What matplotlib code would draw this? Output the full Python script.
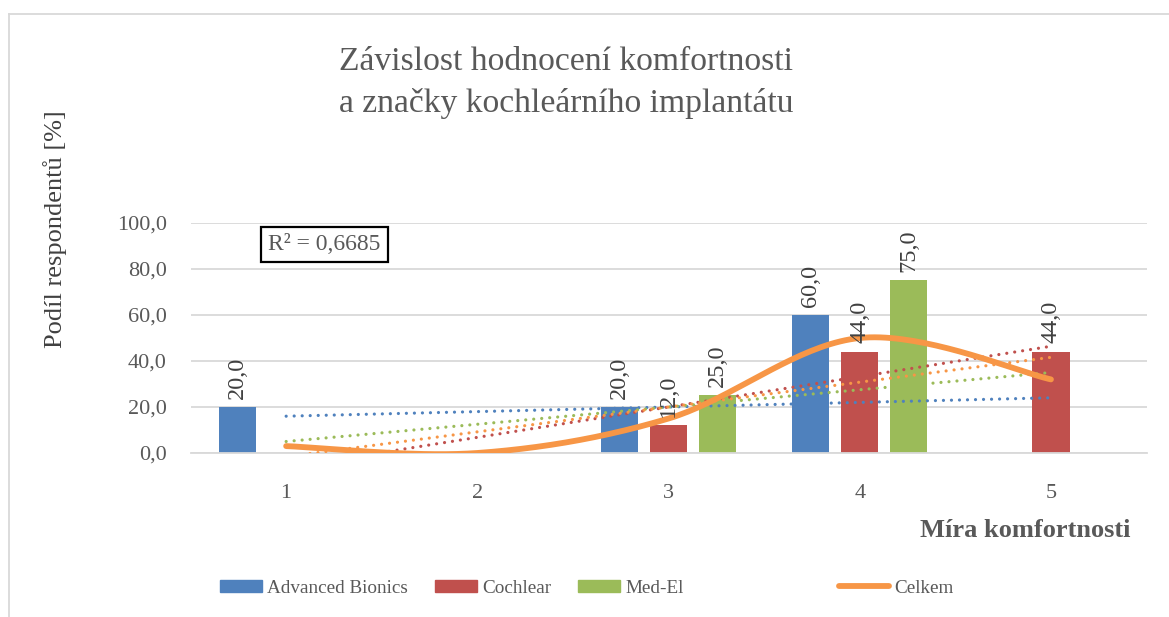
import numpy as np
import matplotlib
matplotlib.use('Agg')
import matplotlib.pyplot as plt
from matplotlib.lines import Line2D
from matplotlib.patches import Patch

# Data
kategorie = [1, 2, 3, 4, 5]
advanced_bionics = [20.0, 0.0, 20.0, 60.0, 0.0]
cochlear = [0.0, 0.0, 12.0, 44.0, 44.0]
med_el = [0.0, 0.0, 25.0, 75.0, 0.0]
celkem = [3.0, 0.0, 15.0, 50.0, 32.0]
y_ticks = [0, 20, 40, 60, 80, 100]
r2_text = 'R² = 0,6685'

barvy = {'ab': '#4F81BD', 'co': '#C0504D', 'me': '#9BBB59', 'ce': '#F79646'}
seda = '#595959'

plt.rcParams['font.family'] = ['Liberation Serif', 'DejaVu Serif']


def excel_smooth(x, y, n=40):
    """Hladká čára podobně jako v Excelu (Bezier, Catmull-Rom)."""
    x = np.asarray(x, float)
    y = np.asarray(y, float)
    xs, ys = [], []
    t = np.linspace(0, 1, n)
    for i in range(len(x) - 1):
        i0 = max(i - 1, 0)
        i3 = min(i + 2, len(x) - 1)
        for arr, out in ((x, xs), (y, ys)):
            p0, p1, p2, p3 = arr[i0], arr[i], arr[i + 1], arr[i3]
            c1 = p1 + (p2 - p0) / 6
            c2 = p2 - (p3 - p1) / 6
            out.extend((1 - t) ** 3 * p1 + 3 * (1 - t) ** 2 * t * c1
                       + 3 * (1 - t) * t ** 2 * c2 + t ** 3 * p2)
    return np.array(xs), np.array(ys)


fig = plt.figure(figsize=(11.69, 6.17), dpi=100)
ax = fig.add_axes([0.163, 0.2658, 0.8178, 0.3728])

x = np.array(kategorie, float)
sirka = 0.194
posun = 0.2565
serie = [
    ('Advanced Bionics', advanced_bionics, barvy['ab'], -posun),
    ('Cochlear', cochlear, barvy['co'], 0.0),
    ('Med-El', med_el, barvy['me'], posun),
]

for nazev, hodnoty, barva, dx in serie:
    ax.bar(x + dx, hodnoty, width=sirka, color=barva, zorder=2)
    for xi, v in zip(x + dx, hodnoty):
        if v > 0:
            ax.annotate(f'{v:.1f}'.replace('.', ','), (xi, v),
                        xytext=(0, 6), textcoords='offset points',
                        rotation=90, ha='center', va='bottom',
                        fontsize=17.5, color='#404040', zorder=5)

# lineární trendy
xt = np.array([kategorie[0], kategorie[-1]], float)
for hodnoty, barva in [(advanced_bionics, barvy['ab']), (cochlear, barvy['co']),
                       (med_el, barvy['me']), (celkem, barvy['ce'])]:
    k, q = np.polyfit(x, hodnoty, 1)
    ax.plot(xt, k * xt + q, color=barva, linewidth=2.3,
            linestyle=(0, (0.01, 2.5)), dash_capstyle='round', zorder=3)

# Celkem - vyhlazená čára
sx, sy = excel_smooth(x, celkem)
ax.plot(sx, sy, color=barvy['ce'], linewidth=4.2, solid_capstyle='round', zorder=4)

ax.set_xlim(0.5, 5.5)
ax.set_ylim(0, 100)
ax.set_yticks(y_ticks)
ax.set_yticklabels([f'{v:.1f}'.replace('.', ',') for v in y_ticks])
ax.set_xticks(kategorie)
ax.set_xticklabels([str(k) for k in kategorie])
ax.tick_params(length=0, labelsize=16, labelcolor=seda)
ax.tick_params(axis='y', pad=17)
ax.tick_params(axis='x', pad=22)
ax.grid(axis='y', color='#D9D9D9', linewidth=1.3, zorder=0)
ax.set_axisbelow(True)
for s in ['top', 'right', 'left']:
    ax.spines[s].set_visible(False)
ax.spines['bottom'].set_color('#D9D9D9')
ax.spines['bottom'].set_linewidth(1.3)

# popisky
fig.text(0.484, 0.8665, 'Závislost hodnocení komfortnosti\na značky kochleárního implantátu',
         ha='center', va='center', fontsize=24.2, color=seda, linespacing=1.45)
fig.text(0.047, 0.629, 'Podíl respondentů [%]', rotation=90, ha='center', va='center',
         fontsize=19, color='#404040')
fig.text(0.877, 0.141, 'Míra komfortnosti', ha='center', va='center',
         fontsize=19, fontweight='bold', color=seda)
fig.text(0.2775, 0.6035, r2_text, ha='center', va='center', fontsize=17, color=seda,
         bbox=dict(boxstyle='square,pad=0.3', facecolor='white', edgecolor='black',
                   linewidth=1.6))

# rámeček grafu (oříznutý vpravo a dole)
fig.add_artist(Line2D([0.0075, 1.0], [0.977, 0.977], color='#D9D9D9', linewidth=1.3))
fig.add_artist(Line2D([0.0075, 0.0075], [0.0, 0.977], color='#D9D9D9', linewidth=1.3))

# legenda (sloupce + čára zvlášť kvůli mezeře jako v originále)
leg_kw = dict(frameon=False, fontsize=13.8, handletextpad=0.26, borderpad=0,
              borderaxespad=0, loc='center left')
h1 = [Patch(color=barvy['ab']), Patch(color=barvy['co']), Patch(color=barvy['me'])]
leg1 = fig.legend(h1, ['Advanced Bionics', 'Cochlear', 'Med-El'], ncol=3,
                  bbox_to_anchor=(220 / 1169, 0.047), handlelength=2.2,
                  handleheight=0.6, columnspacing=1.4, **leg_kw)
h2 = [Line2D([0], [0], color=barvy['ce'], linewidth=4.2, solid_capstyle='round')]
leg2 = fig.legend(h2, ['Celkem'], bbox_to_anchor=(839 / 1169, 0.047),
                  handlelength=2.6, **leg_kw)
for leg in (leg1, leg2):
    for t in leg.get_texts():
        t.set_color(seda)

plt.savefig('out.png', dpi=100)
